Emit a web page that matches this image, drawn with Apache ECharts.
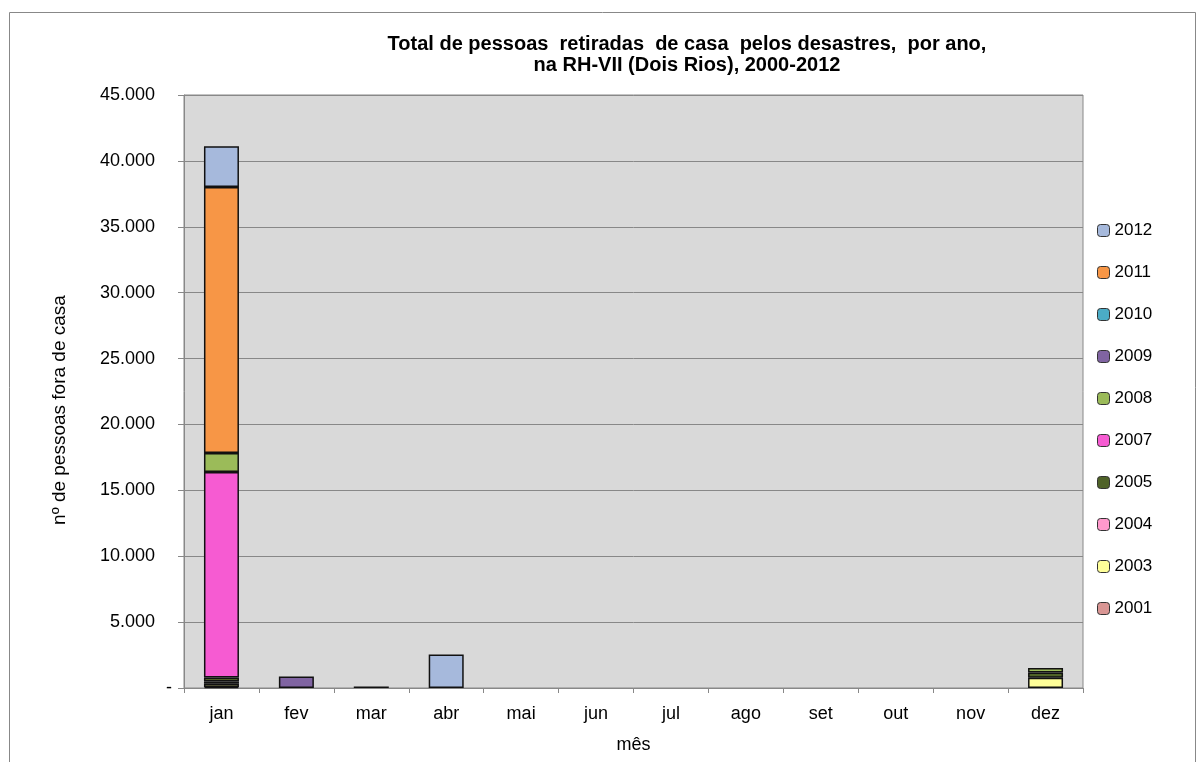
<!DOCTYPE html>
<html>
<head>
<meta charset="utf-8">
<script src="https://cdn.jsdelivr.net/npm/echarts@6/dist/echarts.min.js"></script>
<style>html,body{margin:0;padding:0;background:#fff;}#c{width:1200px;height:762px;}</style>
</head>
<body>
<div id="c"></div>
<script>
const months = ['jan','fev','mar','abr','mai','jun','jul','ago','set','out','nov','dez'];
const yTicks = [0, 5000, 10000, 15000, 20000, 25000, 30000, 35000, 40000, 45000];
const s2001 = [80, 0, 0, 0, 0, 0, 0, 0, 0, 0, 0, 0];
const s2003 = [250, 0, 0, 0, 0, 0, 0, 0, 0, 0, 0, 780];
const s2004 = [170, 0, 0, 0, 0, 0, 0, 0, 0, 0, 0, 0];
const s2005 = [300, 0, 0, 0, 0, 0, 0, 0, 0, 0, 0, 400];
const s2007 = [15590, 0, 0, 0, 0, 0, 0, 0, 0, 0, 0, 0];
const s2008 = [1440, 0, 0, 0, 0, 0, 0, 0, 0, 0, 0, 340];
const s2009 = [0, 880, 0, 0, 0, 0, 0, 0, 0, 0, 0, 0];
const s2010 = [0, 0, 120, 0, 0, 0, 0, 0, 0, 0, 0, 0];
const s2011 = [20180, 0, 0, 0, 0, 0, 0, 0, 0, 0, 0, 0];
const s2012 = [3100, 0, 0, 2550, 0, 0, 0, 0, 0, 0, 0, 0];

const seriesDefs = [
  ['2001', s2001, '#D99694'],
  ['2003', s2003, '#FFFF99'],
  ['2004', s2004, '#FF99CC'],
  ['2005', s2005, '#4F6228'],
  ['2007', s2007, '#F65BD2'],
  ['2008', s2008, '#9BBB59'],
  ['2009', s2009, '#8064A2'],
  ['2010', s2010, '#4BACC6'],
  ['2011', s2011, '#F79646'],
  ['2012', s2012, '#A6B9DC']
];

const chart = echarts.init(document.getElementById('c'));
const font = 'Liberation Sans, Arial, sans-serif';
chart.setOption({
  animation: false,
  backgroundColor: '#fff',
  textStyle: { fontFamily: font },
  title: {
    text: 'Total de pessoas  retiradas  de casa  pelos desastres,  por ano,\nna RH-VII (Dois Rios), 2000-2012',
    left: 682, top: 29, textAlign: 'center',
    textStyle: { fontFamily: font, fontSize: 20, fontWeight: 'bold', color: '#000', lineHeight: 21 }
  },
  graphic: [{
    type: 'rect', shape: { x: 9.5, y: 12.5, width: 1186, height: 770 },
    style: { fill: 'none', stroke: '#888', lineWidth: 1 }, silent: true, z: -1
  }, {
    type: 'text', x: 60, y: 410, rotation: Math.PI / 2,
    style: { text: 'nº de pessoas fora de casa', fontFamily: font, fontSize: 19, fill: '#000', align: 'center', verticalAlign: 'middle' }
  }],
  legend: {
    orient: 'vertical', left: 1092, top: 217,
    itemWidth: 12, itemHeight: 12, itemGap: 25,
    data: seriesDefs.map(d => d[0]).reverse(),
    textStyle: { fontFamily: font, fontSize: 17, color: '#000', lineHeight: 17 },
    itemStyle: { borderColor: '#333', borderWidth: 1 }
  },
  grid: { left: 184, right: 117, top: 95, bottom: 74, show: true, backgroundColor: '#D9D9D9', borderColor: '#888', borderWidth: 1 },
  xAxis: {
    type: 'category', data: months, boundaryGap: true,
    name: 'mês', nameLocation: 'middle', nameGap: 48,
    nameTextStyle: { fontFamily: font, fontSize: 18, color: '#000' },
    axisLine: { lineStyle: { color: '#888' } },
    axisTick: { show: true, alignWithLabel: false, length: 5, lineStyle: { color: '#888' } },
    axisLabel: { fontFamily: font, fontSize: 18, color: '#000', margin: 17 }
  },
  yAxis: {
    type: 'value', min: yTicks[0], max: yTicks[yTicks.length - 1], interval: 5000,
    axisLine: { show: true, lineStyle: { color: '#888' } },
    axisTick: { show: true, length: 6, lineStyle: { color: '#888' } },
    splitLine: { lineStyle: { color: '#888', width: 1 } },
    axisLabel: {
      fontFamily: font, fontSize: 18, color: '#000', margin: 12,
      formatter: v => v === 0 ? '{z|-}' : '{n|' + v.toLocaleString('de-DE') + '}',
      rich: {
        z: { fontFamily: font, fontSize: 18, color: '#000' },
        n: { fontFamily: font, fontSize: 18, color: '#000', padding: [0, 17, 0, 0] }
      }
    }
  },
  series: seriesDefs.map(([name, data, color]) => ({
    name, type: 'bar', stack: 'total',
    data: data.map(v => v === 0 ? null : v),
    barWidth: 35,
    itemStyle: { color, borderColor: '#111', borderWidth: 1.5 }
  }))
});
</script>
</body>
</html>
